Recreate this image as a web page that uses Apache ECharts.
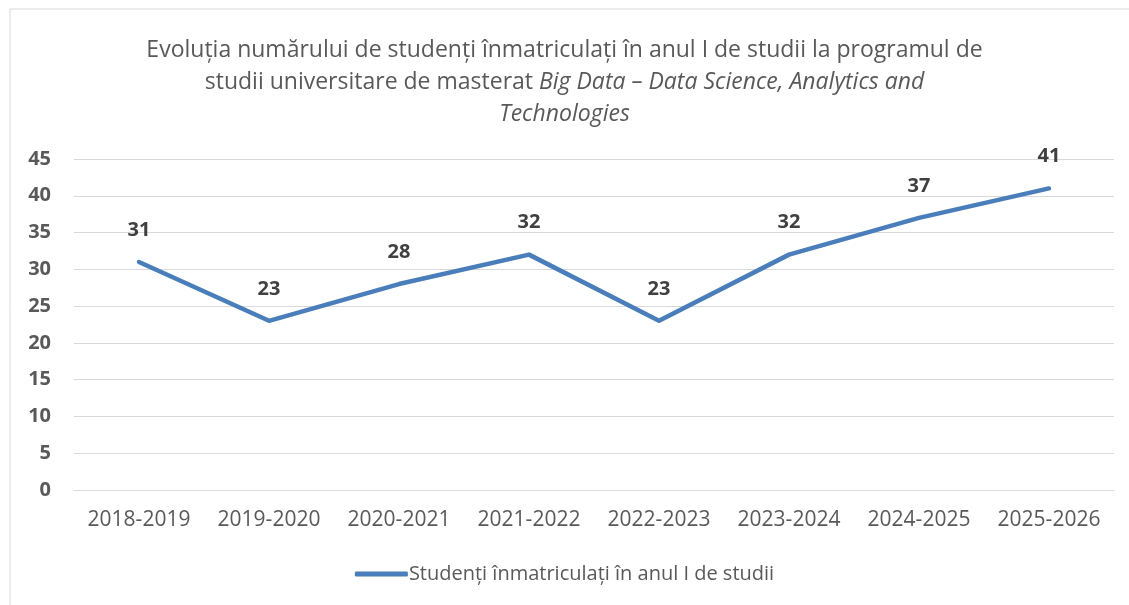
<!DOCTYPE html>
<html>
<head>
<meta charset="utf-8">
<script src="https://cdn.jsdelivr.net/npm/echarts@6/dist/echarts.min.js"></script>
<style>
  html, body { margin: 0; padding: 0; background: #fff; }
  #chart { width: 1129px; height: 605px; }
</style>
</head>
<body>
<div id="chart"></div>
<script>
// date
var years = ['2018-2019', '2019-2020', '2020-2021', '2021-2022', '2022-2023', '2023-2024', '2024-2025', '2025-2026'];
var students = [31, 23, 28, 32, 23, 32, 37, 41];
var yTicks = { min: 0, max: 45, interval: 5 };
var seriesName = 'Studenți înmatriculați în anul I de studii';

var font = '"Open Sans", Lato, sans-serif';
var grey = '#595959';

var chart = echarts.init(document.getElementById('chart'));

var option = {
    animation: false,
    textStyle: { fontFamily: font },
    graphic: [{
        type: 'rect',
        shape: { x: 10, y: 9, width: 1130, height: 600 },
        style: { fill: 'none', stroke: '#d9d9d9', lineWidth: 1 },
        silent: true
    }],
    title: {
        left: 'center',
        top: 29,
        text: '{n|Evoluția numărului de studenți înmatriculați în anul I de studii la programul de}\n' +
              '{n|studii universitare de masterat }{i|Big Data – Data Science, Analytics and}\n' +
              '{i|Technologies}',
        textStyle: {
            fontWeight: 'normal',
            rich: {
                n: { fontFamily: font, fontSize: 23, color: grey, lineHeight: 32, fontWeight: 'normal' },
                i: { fontFamily: font, fontSize: 23, color: grey, lineHeight: 32, fontStyle: 'italic', fontWeight: 'normal' }
            }
        }
    },
    grid: {
        left: 74,
        right: 15,
        top: 159,
        bottom: 115,
        containLabel: false
    },
    legend: {
        bottom: 16,
        left: 'center',
        data: [seriesName],
        icon: 'roundRect',
        itemWidth: 53,
        itemHeight: 5,
        textStyle: { color: grey, fontSize: 20, fontFamily: font, padding: [0, 0, 0, -4] }
    },
    xAxis: {
        type: 'category',
        data: years,
        boundaryGap: true,
        axisLine: { show: true, lineStyle: { color: '#d9d9d9', width: 1 } },
        axisTick: { show: false },
        axisLabel: { color: grey, fontSize: 21, margin: 20, fontFamily: font, interval: 0 }
    },
    yAxis: {
        type: 'value',
        min: yTicks.min,
        max: yTicks.max,
        interval: yTicks.interval,
        axisLine: { show: false },
        axisTick: { show: false },
        splitLine: { lineStyle: { color: '#d9d9d9', width: 1 } },
        axisLabel: { color: grey, fontSize: 20, fontWeight: 'bold', margin: 23, fontFamily: font }
    },
    series: [{
        name: seriesName,
        type: 'line',
        data: students,
        symbol: 'circle',
        symbolSize: 0,
        showSymbol: true,
        lineStyle: { color: '#4a7ebb', width: 4.5, cap: 'round', join: 'round' },
        itemStyle: { color: '#4a7ebb' },
        label: {
            show: true,
            position: 'top',
            distance: 22,
            color: '#404040',
            fontSize: 20,
            fontWeight: 'bold',
            fontFamily: font
        }
    }]
};

chart.setOption(option);
</script>
</body>
</html>
